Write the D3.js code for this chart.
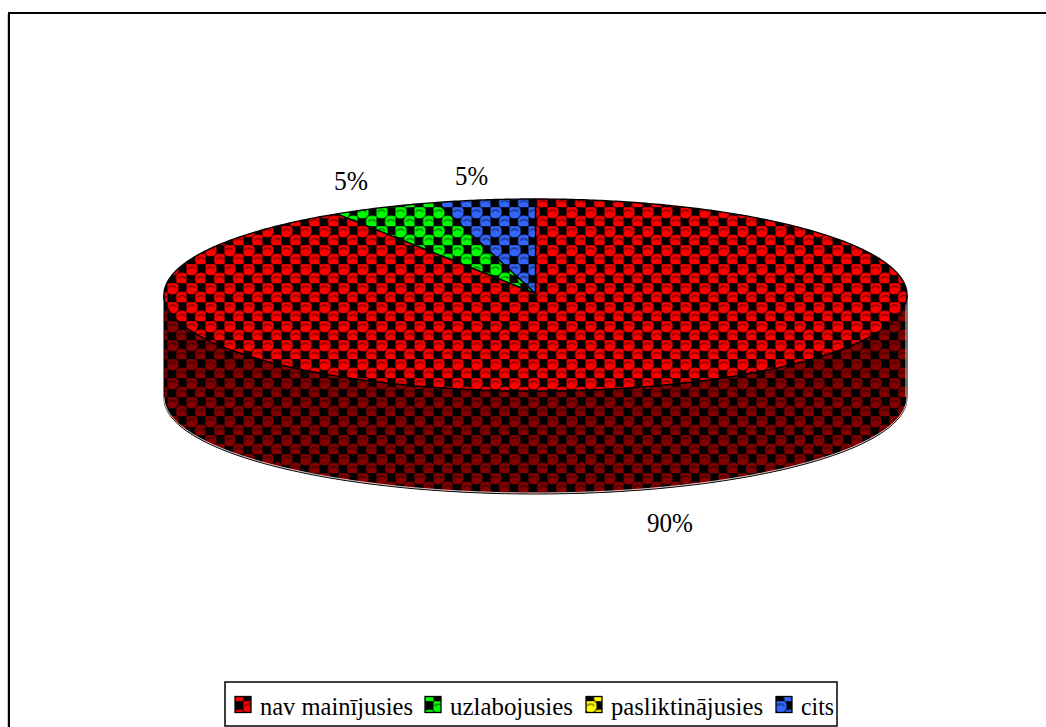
<!DOCTYPE html>
<html><head><meta charset="utf-8">
<script src="https://cdn.jsdelivr.net/npm/d3@7/dist/d3.min.js"></script>
<style>html,body{margin:0;padding:0;background:#fff;overflow:hidden}svg{display:block}text{font-family:"Liberation Serif","Times New Roman",serif;fill:#000}</style>
</head><body><div id="c"></div>
<script>
const categories=["nav mainījusies","uzlabojusies","pasliktinājusies","cits"];
const values=[90,5,0,5];
const labelText=["90%","5%","","5%"];
const colors=["#ff0000","#00ff00","#ffff00","#3366ff"];
const W=1046,H=727,cx=535.5,cy=295,rx=371.5,ry=96,depth=103;
const svg=d3.select("#c").append("svg").attr("width",W).attr("height",H);
const defs=svg.append("defs");
function pat(id,col){
  const s=19;
  const p=defs.append("pattern").attr("id",id).attr("x",-3.5).attr("y",-1.8).attr("width",s).attr("height",s).attr("patternUnits","userSpaceOnUse");
  p.append("rect").attr("width",s).attr("height",s).attr("fill","#000");
  const dk=d3.color(col).darker(1.6)+"";
  [[5,5],[14.5,14.5]].forEach(([x,y])=>{
    p.append("circle").attr("cx",x).attr("cy",y).attr("r",6.5).attr("fill",col);
    p.append("path").attr("d",`M${x-3.8},${y}A4.5,4.5 0 0 1 ${x+3.8},${y}`).attr("fill","none").attr("stroke",dk).attr("stroke-width",1.7);
  });
  [[5,14.5],[14.5,5]].forEach(([x,y])=>p.append("rect").attr("x",x-3.5).attr("y",y-3.5).attr("width",7).attr("height",7).attr("rx",1).attr("fill","#000"));
}
colors.forEach((c,i)=>pat("p"+i,c));
pat("pd","#850000");

svg.append("rect").attr("x",7).attr("y",14).attr("width",1).attr("height",H).attr("fill","#c8c8c8");
svg.append("rect").attr("x",9).attr("y",13).attr("width",1100).attr("height",800).attr("fill","#fff").attr("stroke","#000").attr("stroke-width",2);

const pie=d3.pie().sort(null).value(d=>d).startAngle(0).endAngle(2*Math.PI);
const arcs=pie(values);
// the 3D view bends the drawn angles a little near the back of the pie
const view=d3.scaleLinear().domain([0,324,342,360].map(d=>d*Math.PI/180)).range([0,327.7,344.6,360].map(d=>d*Math.PI/180));
const pt=a=>[cx+rx*Math.sin(a),cy-ry*Math.cos(a)];
const line=d3.line();
const front=d3.range(Math.PI/2,3*Math.PI/2+.001,.02).map(pt);
const wall=front.concat(front.slice().reverse().map(([x,y])=>[x,y+depth]));
svg.append("path").attr("d",line(wall)+"Z").attr("fill","url(#pd)").attr("stroke","#000").attr("stroke-width",1);
svg.append("path").attr("d",line(front.map(([x,y])=>[x,y+depth-1]))).attr("fill","none").attr("stroke","#fff").attr("stroke-width",.8);
svg.append("path").attr("d",`M${cx+rx-1},${cy+4}V${cy+depth-1}`).attr("fill","none").attr("stroke","#fff").attr("stroke-width",.8);
arcs.forEach((d,i)=>{
  if(d.value===0)return;
  const pts=[[cx,cy-1.5]];
  const a0=view(d.startAngle),a1=view(d.endAngle);
  for(let a=a0;a<a1;a+=.01)pts.push(pt(a));
  pts.push(pt(a1));
  svg.append("path").attr("d",line(pts)+"Z").attr("fill",`url(#p${i})`).attr("stroke","#000").attr("stroke-width",1.4).attr("stroke-linejoin","round");
});
const fs=27;
const ltext=[[647,532,46,labelText[0]],[334,190,34,labelText[1]],[455,185,33,labelText[3]]];
svg.selectAll("text.l").data(ltext).join("text").attr("class","l").attr("x",d=>d[0]).attr("y",d=>d[1]).attr("font-size",fs)
  .attr("textLength",d=>d[2]).attr("lengthAdjust","spacingAndGlyphs").text(d=>d[3]);
svg.append("rect").attr("x",225).attr("y",682).attr("width",612).attr("height",44).attr("fill","#fff").attr("stroke","#000").attr("stroke-width",1.5);
const lx=[235,425,586,776],tx=[260,450,611,801],tw=[153,123,152,33];
categories.forEach((c,i)=>{
  svg.append("rect").attr("x",lx[i]).attr("y",696.5).attr("width",16).attr("height",16).attr("fill",`url(#p${i})`).attr("stroke","#000").attr("stroke-width",1.3);
  svg.append("text").attr("x",tx[i]).attr("y",715).attr("font-size",fs-1).attr("textLength",tw[i]).attr("lengthAdjust","spacingAndGlyphs").text(c);
});
</script></body></html>
